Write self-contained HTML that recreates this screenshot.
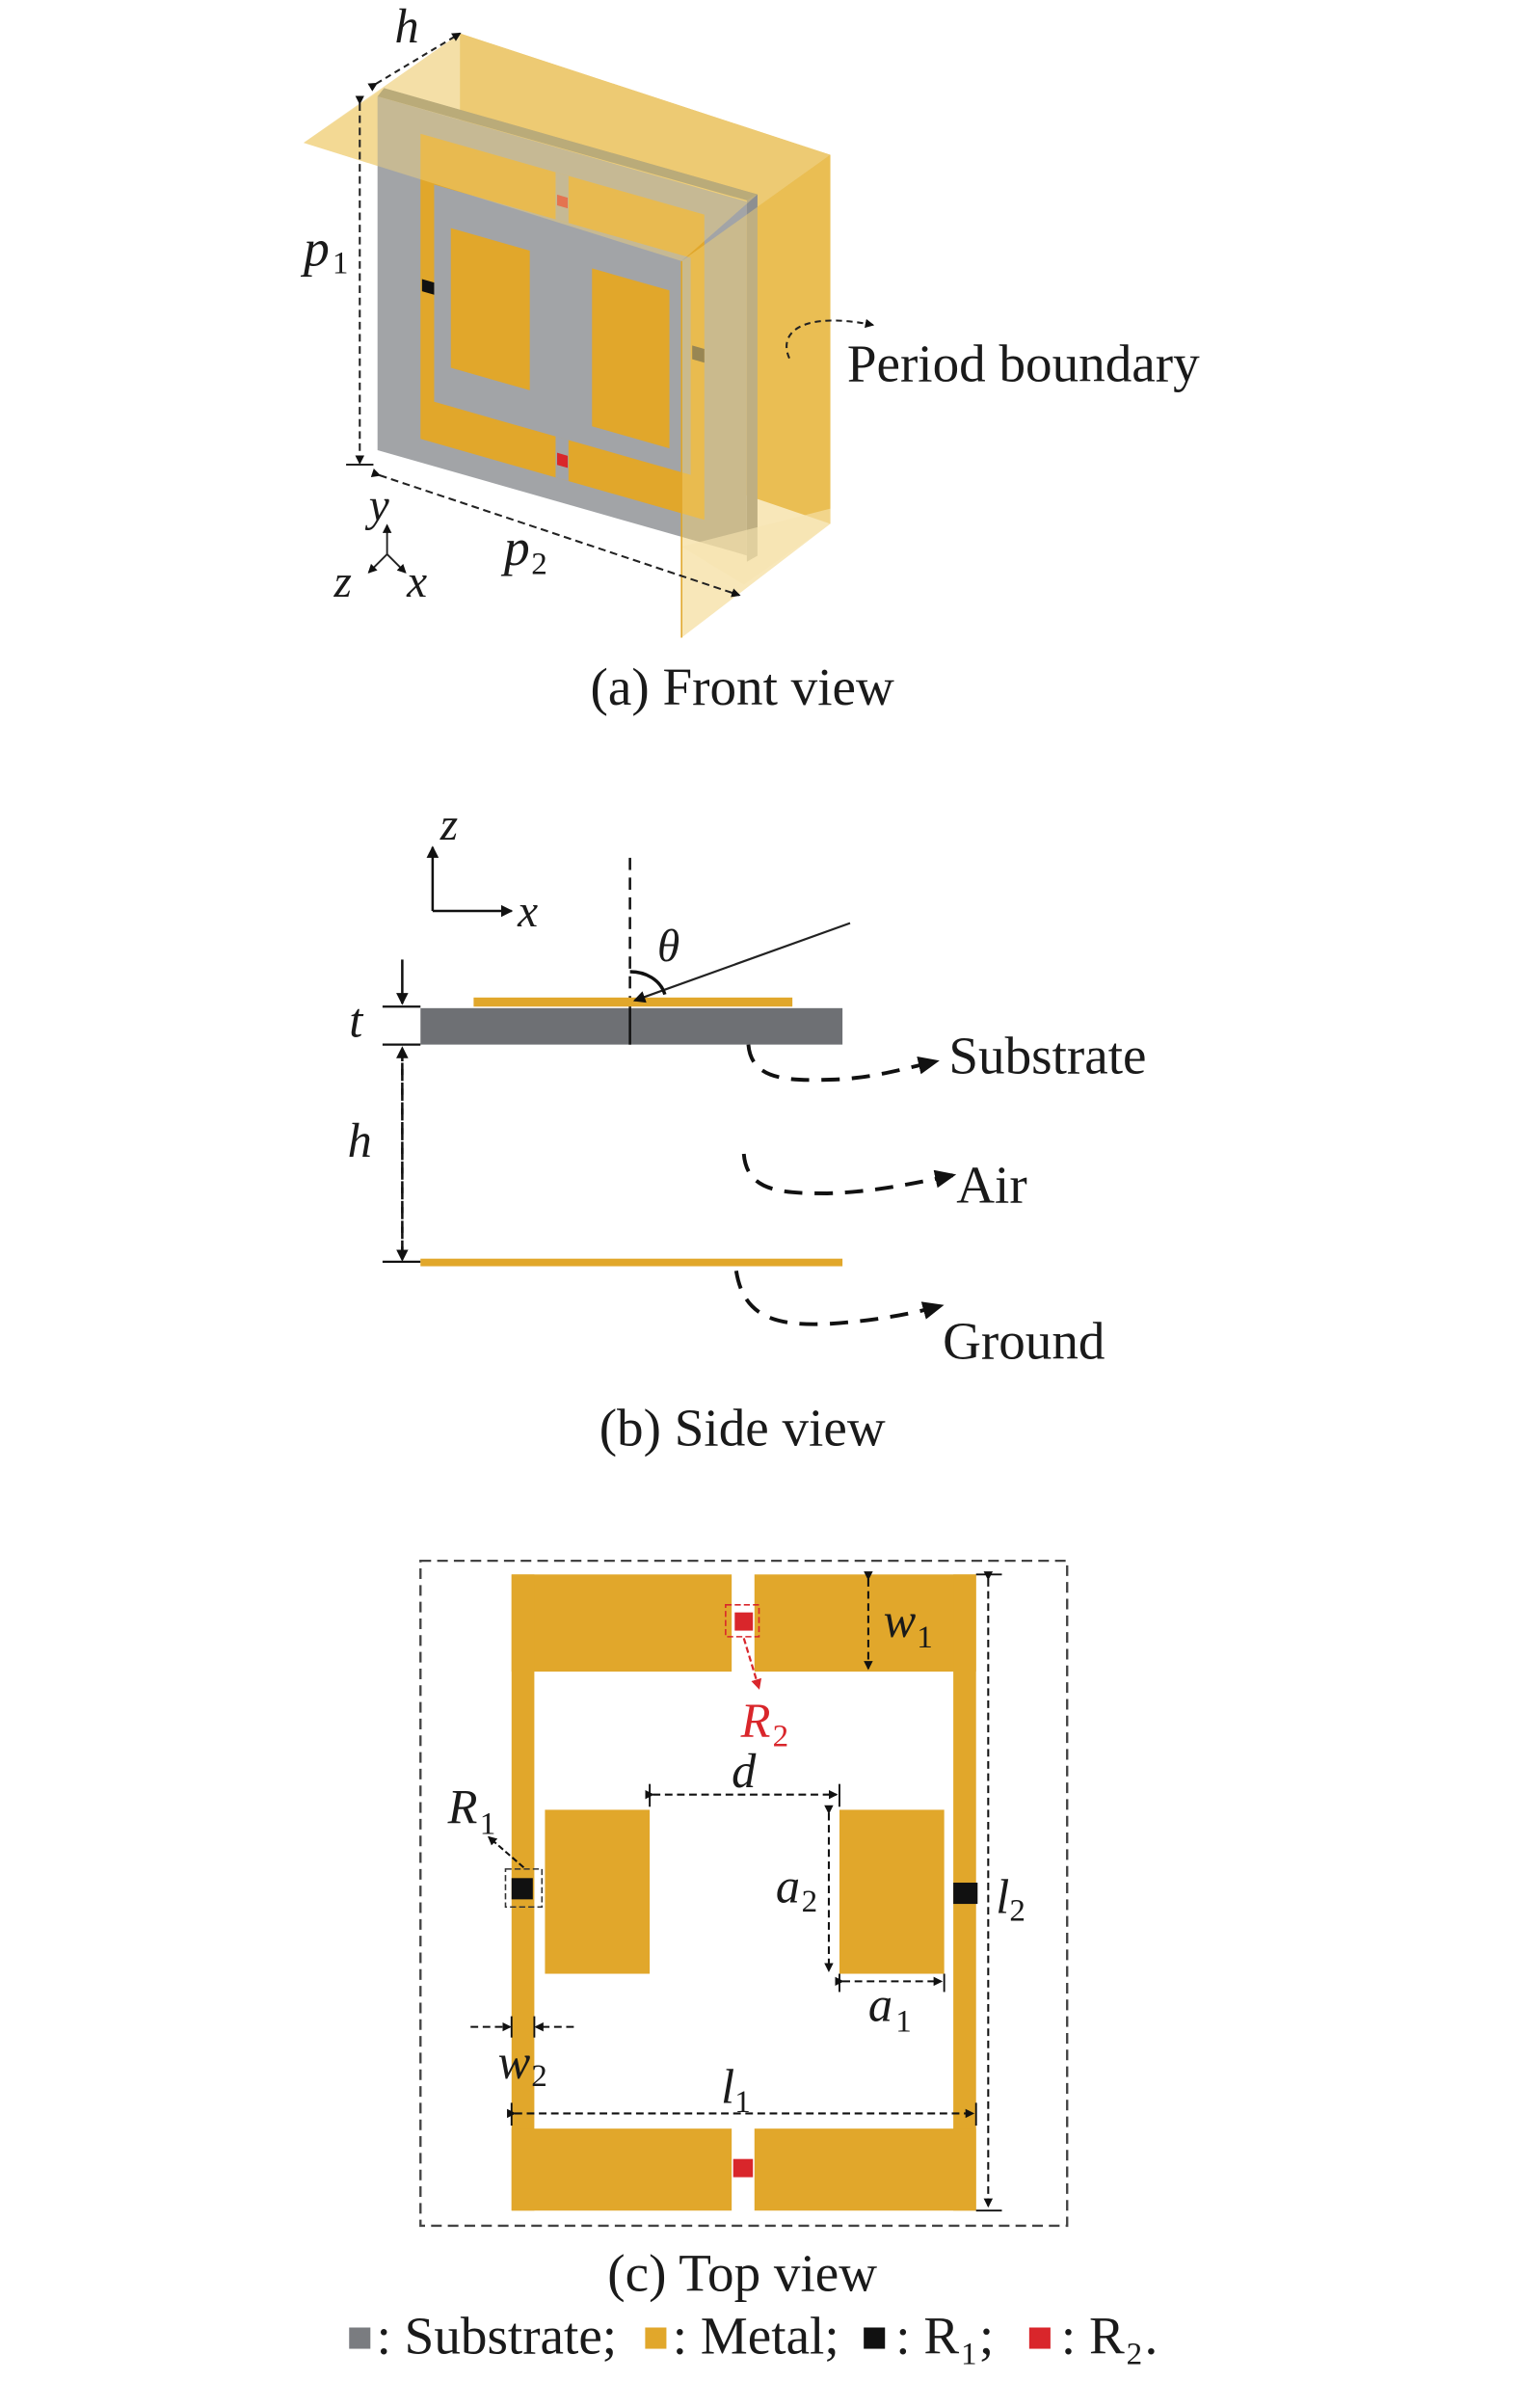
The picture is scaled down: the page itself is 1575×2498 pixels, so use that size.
<!DOCTYPE html>
<html><head><meta charset="utf-8"><style>
html,body{margin:0;padding:0;background:#fff;}
svg{display:block;}
text{font-family:"Liberation Serif",serif;fill:#1a1a1a;}
.i{font-style:italic;}
</style></head><body>
<svg width="1575" height="2498" viewBox="0 0 1000 1586" xmlns="http://www.w3.org/2000/svg">
<defs>
<marker id="ah" markerWidth="8" markerHeight="8" refX="7" refY="4" orient="auto" markerUnits="userSpaceOnUse"><path d="M0,0L8,4L0,8z" fill="#111"/></marker>
<marker id="ahs" markerWidth="6" markerHeight="6" refX="5" refY="3" orient="auto" markerUnits="userSpaceOnUse"><path d="M0,0L6,3L0,6z" fill="#111"/></marker>
<marker id="ahb" markerWidth="14" markerHeight="12" refX="12" refY="6" orient="auto" markerUnits="userSpaceOnUse"><path d="M0,0L14,6L0,12z" fill="#111"/></marker>
<marker id="ahr" markerWidth="7" markerHeight="7" refX="6" refY="3.5" orient="auto" markerUnits="userSpaceOnUse"><path d="M0,0L7,3.5L0,7z" fill="#d9262b"/></marker>
<g id="metal">
<rect x="60" y="9" width="145" height="64" fill="#e1a72b"/>
<rect x="220" y="9" width="146" height="64" fill="#e1a72b"/>
<rect x="60" y="9" width="15" height="419" fill="#e1a72b"/>
<rect x="351" y="9" width="15" height="419" fill="#e1a72b"/>
<rect x="60" y="374" width="145" height="54" fill="#e1a72b"/>
<rect x="220" y="374" width="146" height="54" fill="#e1a72b"/>
<rect x="82" y="164" width="69" height="108" fill="#e1a72b"/>
<rect x="276" y="164" width="69" height="108" fill="#e1a72b"/>
<rect x="207" y="34" width="12" height="12" fill="#d9262b"/>
<rect x="206" y="394" width="13" height="12" fill="#d9262b"/>
<rect x="60" y="209" width="14" height="14" fill="#111"/>
<rect x="351" y="212" width="16" height="14" fill="#111"/>
</g>
</defs>

<!-- (a) Front view -->
<polygon points="303,22 547,102 547,345 303,262" fill="#e3ad33"/>
<polygon points="200,94 303,22 547,102 449,172" fill="#f0d48a" opacity="0.75"/>
<g transform="matrix(1,0.285,0,1,0,-7.4)">
<rect x="248.7" y="0" width="243.3" height="233" fill="#a2a4a7"/>
<rect x="277" y="16.5" width="187" height="201" fill="#e1a72b"/>
<rect x="286" y="47.5" width="169" height="143" fill="#a2a4a7"/>
<rect x="366" y="16.5" width="8.5" height="31" fill="#a2a4a7"/>
<rect x="366" y="190.4" width="8.5" height="27.1" fill="#a2a4a7"/>
<rect x="297" y="73" width="52" height="92" fill="#e1a72b"/>
<rect x="390" y="73" width="51" height="104" fill="#e1a72b"/>
<rect x="367" y="31" width="7" height="7" fill="#d9262b"/>
<rect x="367" y="201" width="7" height="8" fill="#d9262b"/>
<rect x="278" y="112" width="8" height="8" fill="#111"/>
<rect x="456" y="105" width="8" height="9" fill="#3e3d33"/>
</g>
<polygon points="492,132 499,128 499,366 492,370" fill="#8d8f91"/>
<polygon points="248.7,63.5 253,58 499,128 492,132" fill="#8d8a76"/>
<polygon points="200,94 253,58 499,128 449,172" fill="#f2d27e" opacity="0.45"/>
<polygon points="449,172 547,102 547,345 449,420" fill="#f2cf73" opacity="0.5"/>
<polygon points="449,360 547,335 547,345 490,385" fill="#f6e4b0" opacity="0.6"/>
<line x1="449" y1="172" x2="449" y2="420" stroke="#e1a72b" stroke-width="1"/>
<line x1="248" y1="55" x2="303" y2="22" stroke="#222" stroke-width="1.3" stroke-dasharray="4,3" marker-start="url(#ahs)" marker-end="url(#ahs)"/>
<text x="260" y="28" class="i" font-size="32">h</text>
<line x1="237" y1="68" x2="237" y2="305" stroke="#222" stroke-width="1.3" stroke-dasharray="5,3" marker-start="url(#ahs)" marker-end="url(#ahs)"/>
<line x1="228" y1="306" x2="246" y2="306" stroke="#222" stroke-width="1.3"/>
<text x="200" y="175" class="i" font-size="34">p</text><text x="219" y="180" font-size="21">1</text>
<line x1="250" y1="313" x2="487" y2="392" stroke="#222" stroke-width="1.3" stroke-dasharray="5,3" marker-start="url(#ahs)" marker-end="url(#ahs)"/>
<text x="332" y="372" class="i" font-size="34">p</text><text x="350" y="378" font-size="21">2</text>
<text x="243" y="343" class="i" font-size="30">y</text>
<line x1="255" y1="365" x2="255" y2="346" stroke="#222" stroke-width="1.2" marker-end="url(#ahs)"/>
<line x1="255" y1="365" x2="243" y2="377" stroke="#222" stroke-width="1.2" marker-end="url(#ahs)"/>
<line x1="255" y1="365" x2="267" y2="377" stroke="#222" stroke-width="1.2" marker-end="url(#ahs)"/>
<text x="220" y="393" class="i" font-size="30">z</text>
<text x="268" y="393" class="i" font-size="30">x</text>
<path d="M520,236 C512,218 530,205 575,214" fill="none" stroke="#222" stroke-width="1.3" stroke-dasharray="4,3" marker-end="url(#ahs)"/>
<text x="558" y="251" font-size="35">Period boundary</text>
<text x="489" y="464" font-size="35" text-anchor="middle">(a) Front view</text>

<!-- (b) Side view -->
<line x1="285" y1="600" x2="285" y2="558" stroke="#111" stroke-width="1.6" marker-end="url(#ah)"/>
<line x1="285" y1="600" x2="337" y2="600" stroke="#111" stroke-width="1.6" marker-end="url(#ah)"/>
<text x="290" y="553" class="i" font-size="30">z</text>
<text x="341" y="610" class="i" font-size="30">x</text>
<line x1="415" y1="565" x2="415" y2="688" stroke="#111" stroke-width="1.6" stroke-dasharray="8,5"/>
<rect x="312" y="657" width="210" height="6" fill="#e1a72b"/>
<rect x="277" y="664" width="278" height="24" fill="#6e7074"/>
<line x1="415" y1="664" x2="415" y2="688" stroke="#111" stroke-width="1.6"/>
<line x1="560" y1="608" x2="418" y2="659" stroke="#222" stroke-width="1.4" marker-end="url(#ah)"/>
<path d="M415,640 C425,640 435,645 438,655" fill="none" stroke="#111" stroke-width="2.2"/>
<text x="433" y="633" class="i" font-size="30">θ</text>
<line x1="265" y1="632" x2="265" y2="661" stroke="#111" stroke-width="1.6" marker-end="url(#ah)"/>
<line x1="252" y1="663" x2="277" y2="663" stroke="#111" stroke-width="1.4"/>
<line x1="252" y1="688" x2="277" y2="688" stroke="#111" stroke-width="1.4"/>
<text x="230" y="683" class="i" font-size="32">t</text>
<line x1="265" y1="829" x2="265" y2="690" stroke="#111" stroke-width="1.6" stroke-dasharray="8,5" marker-end="url(#ah)"/>
<line x1="265" y1="700" x2="265" y2="830" stroke="#111" stroke-width="1.6" stroke-dasharray="8,5" marker-end="url(#ah)"/>
<line x1="252" y1="831" x2="277" y2="831" stroke="#111" stroke-width="1.4"/>
<text x="229" y="762" class="i" font-size="32">h</text>
<rect x="277" y="829" width="278" height="5" fill="#e1a72b"/>
<path d="M493,688 C495,712 520,712 550,711 C575,710 595,704 617,699" fill="none" stroke="#111" stroke-width="2.5" stroke-dasharray="12,8" marker-end="url(#ahb)"/>
<text x="625" y="707" font-size="35">Substrate</text>
<path d="M490,760 C492,785 515,786 545,786 C575,785 600,780 628,774" fill="none" stroke="#111" stroke-width="2.5" stroke-dasharray="12,8" marker-end="url(#ahb)"/>
<text x="630" y="792" font-size="35">Air</text>
<path d="M485,837 C490,870 515,873 545,872 C575,870 598,866 620,860" fill="none" stroke="#111" stroke-width="2.5" stroke-dasharray="12,8" marker-end="url(#ahb)"/>
<text x="621" y="895" font-size="35">Ground</text>
<text x="489" y="952" font-size="35" text-anchor="middle">(b) Side view</text>

<!-- (c) Top view -->
<rect x="277" y="1028" width="426" height="438" fill="none" stroke="#444" stroke-width="1.5" stroke-dasharray="7,4"/>
<g transform="translate(277,1028)"><use href="#metal"/></g>
<rect x="478" y="1057" width="22" height="21" fill="none" stroke="#d9262b" stroke-width="1" stroke-dasharray="4,2"/>
<line x1="490" y1="1079" x2="500" y2="1112" stroke="#d9262b" stroke-width="1.4" stroke-dasharray="4,2" marker-end="url(#ahr)"/>
<text x="488" y="1144" class="i" font-size="32" style="fill:#d9262b">R</text><text x="509" y="1150" font-size="21" style="fill:#d9262b">2</text>
<line x1="572" y1="1040" x2="572" y2="1099" stroke="#111" stroke-width="1.3" stroke-dasharray="5,3" marker-start="url(#ahs)" marker-end="url(#ahs)"/>
<text x="582" y="1078" class="i" font-size="32">w</text><text x="604" y="1085" font-size="21">1</text>
<line x1="651" y1="1040" x2="651" y2="1453" stroke="#111" stroke-width="1.3" stroke-dasharray="5,3" marker-start="url(#ahs)" marker-end="url(#ahs)"/>
<line x1="643" y1="1037" x2="660" y2="1037" stroke="#111" stroke-width="1.2"/>
<line x1="643" y1="1456" x2="660" y2="1456" stroke="#111" stroke-width="1.2"/>
<text x="656" y="1260" class="i" font-size="32">l</text><text x="665" y="1265" font-size="21">2</text>
<line x1="430" y1="1182" x2="551" y2="1182" stroke="#111" stroke-width="1.3" stroke-dasharray="5,3" marker-start="url(#ahs)" marker-end="url(#ahs)"/>
<line x1="428" y1="1175" x2="428" y2="1190" stroke="#111" stroke-width="1.2"/>
<line x1="553" y1="1175" x2="553" y2="1190" stroke="#111" stroke-width="1.2"/>
<text x="482" y="1177" class="i" font-size="32">d</text>
<line x1="546" y1="1194" x2="546" y2="1298" stroke="#111" stroke-width="1.3" stroke-dasharray="5,3" marker-start="url(#ahs)" marker-end="url(#ahs)"/>
<text x="511" y="1253" class="i" font-size="32">a</text><text x="528" y="1259" font-size="21">2</text>
<line x1="555" y1="1305" x2="620" y2="1305" stroke="#111" stroke-width="1.3" stroke-dasharray="5,3" marker-start="url(#ahs)" marker-end="url(#ahs)"/>
<line x1="553" y1="1300" x2="553" y2="1312" stroke="#111" stroke-width="1.2"/>
<line x1="622" y1="1300" x2="622" y2="1312" stroke="#111" stroke-width="1.2"/>
<text x="572" y="1331" class="i" font-size="32">a</text><text x="590" y="1338" font-size="21">1</text>
<line x1="310" y1="1335" x2="336" y2="1335" stroke="#111" stroke-width="1.3" stroke-dasharray="5,3" marker-end="url(#ahs)"/>
<line x1="378" y1="1335" x2="353" y2="1335" stroke="#111" stroke-width="1.3" stroke-dasharray="5,3" marker-end="url(#ahs)"/>
<line x1="337" y1="1328" x2="337" y2="1342" stroke="#111" stroke-width="1.2"/>
<line x1="352" y1="1328" x2="352" y2="1342" stroke="#111" stroke-width="1.2"/>
<text x="328" y="1369" class="i" font-size="32">w</text><text x="350" y="1374" font-size="21">2</text>
<line x1="339" y1="1392" x2="641" y2="1392" stroke="#111" stroke-width="1.3" stroke-dasharray="5,3" marker-start="url(#ahs)" marker-end="url(#ahs)"/>
<line x1="337" y1="1385" x2="337" y2="1400" stroke="#111" stroke-width="1.2"/>
<line x1="643" y1="1385" x2="643" y2="1400" stroke="#111" stroke-width="1.2"/>
<text x="475" y="1385" class="i" font-size="32">l</text><text x="484" y="1391" font-size="21">1</text>
<rect x="333" y="1231" width="24" height="25" fill="none" stroke="#333" stroke-width="1" stroke-dasharray="4,2"/>
<line x1="345" y1="1230" x2="322" y2="1210" stroke="#111" stroke-width="1.3" stroke-dasharray="4,2" marker-end="url(#ahs)"/>
<text x="295" y="1201" class="i" font-size="32">R</text><text x="316" y="1208" font-size="21">1</text>
<text x="489" y="1509" font-size="35" text-anchor="middle">(c) Top view</text>
<rect x="230" y="1533" width="14" height="14" fill="#7a7c80"/>
<text x="248" y="1550" font-size="35">: Substrate;</text>
<rect x="425" y="1533" width="14" height="14" fill="#e1a72b"/>
<text x="443" y="1550" font-size="35">: Metal;</text>
<rect x="569" y="1533" width="14" height="14" fill="#111"/>
<text x="590" y="1550" font-size="35">: R</text><text x="633" y="1557" font-size="21">1</text><text x="645" y="1550" font-size="35">;</text>
<rect x="678" y="1533" width="14" height="14" fill="#d9262b"/>
<text x="699" y="1550" font-size="35">: R</text><text x="742" y="1557" font-size="21">2</text><text x="754" y="1550" font-size="35">.</text>
</svg>
</body></html>
